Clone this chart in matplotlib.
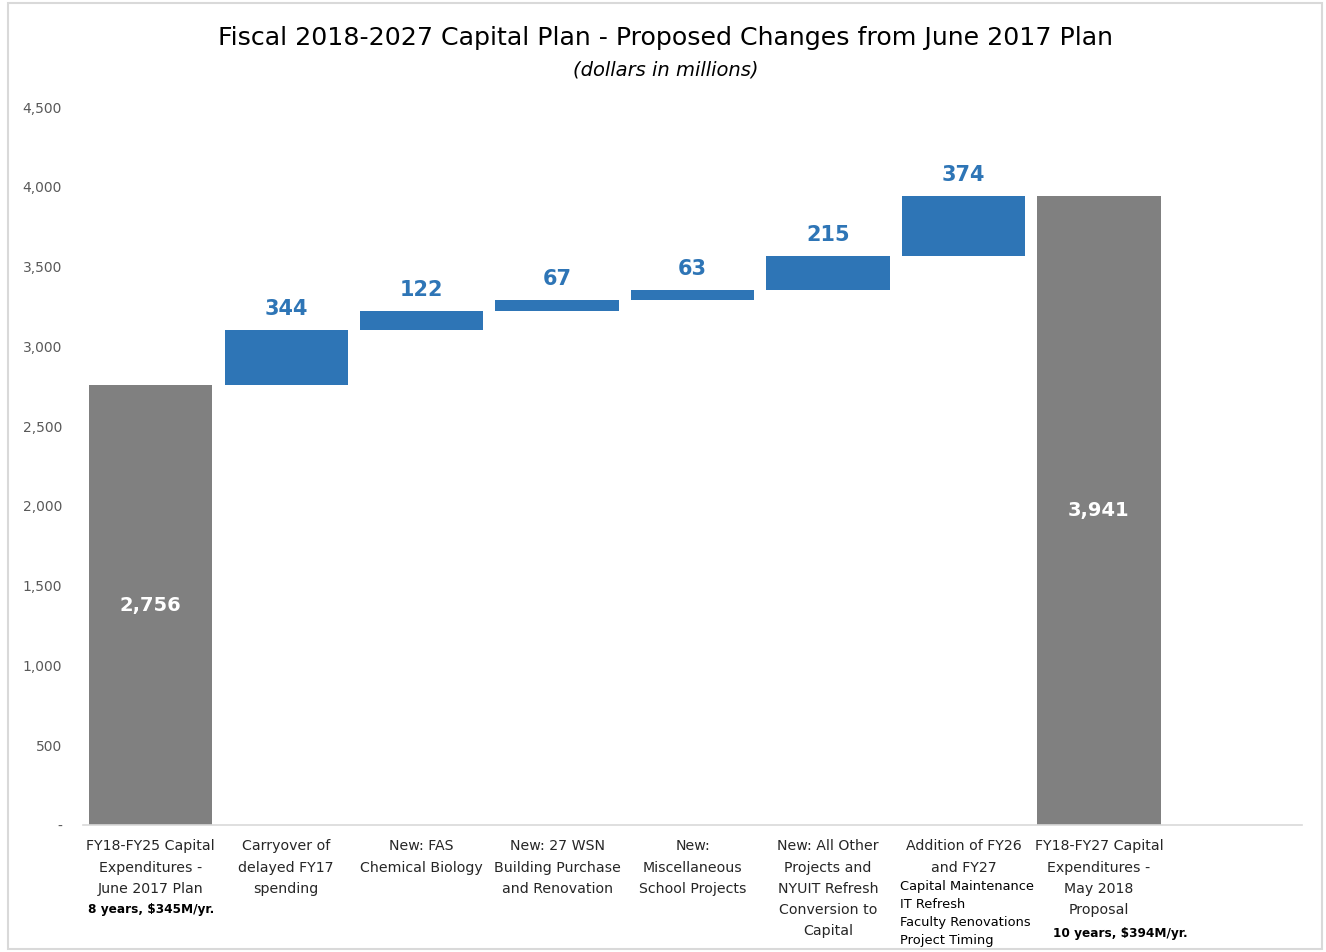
import numpy as np
import matplotlib.pyplot as plt
import matplotlib.transforms as mtransforms
from matplotlib.patches import Rectangle

# waterfall data (dollars in millions)
categories = [
    "FY18-FY25 Capital\nExpenditures -\nJune 2017 Plan",
    "Carryover of\ndelayed FY17\nspending",
    "New: FAS\nChemical Biology",
    "New: 27 WSN\nBuilding Purchase\nand Renovation",
    "New:\nMiscellaneous\nSchool Projects",
    "New: All Other\nProjects and\nNYUIT Refresh\nConversion to\nCapital",
    "Addition of FY26\nand FY27",
    "FY18-FY27 Capital\nExpenditures -\nMay 2018\nProposal",
]
start_value = 2756
changes = [344, 122, 67, 63, 215, 374]
end_value = 3941
yticks = [0, 500, 1000, 1500, 2000, 2500, 3000, 3500, 4000, 4500]

GRAY = "#808080"
BLUE = "#2E75B6"

fig = plt.figure(figsize=(13.26, 9.52), dpi=100)
fig.patches.append(Rectangle((0.006, 0.003), 0.991, 0.994, transform=fig.transFigure,
                             fill=False, edgecolor="#d9d9d9", linewidth=1.5))
ax = fig.add_axes([0.0626, 0.1334, 0.9194, 0.7542])

x = np.arange(len(categories))
width = 0.91

# totals
ax.bar(x[0], start_value, width, color=GRAY)
ax.bar(x[-1], end_value, width, color=GRAY)

# floating changes
bottoms = start_value + np.concatenate([[0], np.cumsum(changes)[:-1]])
ax.bar(x[1:-1], changes, width, bottom=bottoms, color=BLUE)

for xi, b, c in zip(x[1:-1], bottoms, changes):
    ax.text(xi, b + c + 70, f"{c}", ha="center", va="bottom", color=BLUE,
            fontsize=15, fontweight="bold")
for xi, v in [(x[0], start_value), (x[-1], end_value)]:
    ax.text(xi, v / 2, f"{v:,}", ha="center", va="center", color="white",
            fontsize=14, fontweight="bold")

ax.set_xlim(-0.5, 8.5)
ax.set_ylim(0, 4500)
ax.set_yticks(yticks)
ax.set_yticklabels(["-"] + [f"{t:,}" for t in yticks[1:]], color="#595959", fontsize=10)
ax.tick_params(axis="y", length=0, pad=15)
ax.set_xticks([])
for s in ["top", "right", "left"]:
    ax.spines[s].set_visible(False)
ax.spines["bottom"].set_color("#d9d9d9")
ax.spines["bottom"].set_linewidth(1.2)

# category labels under the axis
trans = mtransforms.blended_transform_factory(ax.transData, ax.transAxes)
for xi, lab in zip(x, categories):
    ax.text(xi, -0.02, lab, transform=trans, ha="center", va="top",
            fontsize=10.2, color="#262626", linespacing=1.65)

ax.text(x[0], -0.108, "8 years, $345M/yr.", transform=trans, ha="center", va="top",
        fontsize=8.7, fontweight="bold", color="black")
ax.text(x[-1] + 0.16, -0.142, "10 years, $394M/yr.", transform=trans, ha="center", va="top",
        fontsize=8.7, fontweight="bold", color="black")
ax.text(x[6] - 0.47, -0.076, "Capital Maintenance\nIT Refresh\nFaculty Renovations\nProject Timing",
        transform=trans, ha="left", va="top", fontsize=9.4, color="black", linespacing=1.5)

fig.text(0.502, 0.960, "Fiscal 2018-2027 Capital Plan - Proposed Changes from June 2017 Plan",
         ha="center", va="center", fontsize=18.2, color="black")
fig.text(0.502, 0.926, "(dollars in millions)", ha="center", va="center",
         fontsize=14, style="italic", color="black")

fig.savefig("out.png", dpi=100)
